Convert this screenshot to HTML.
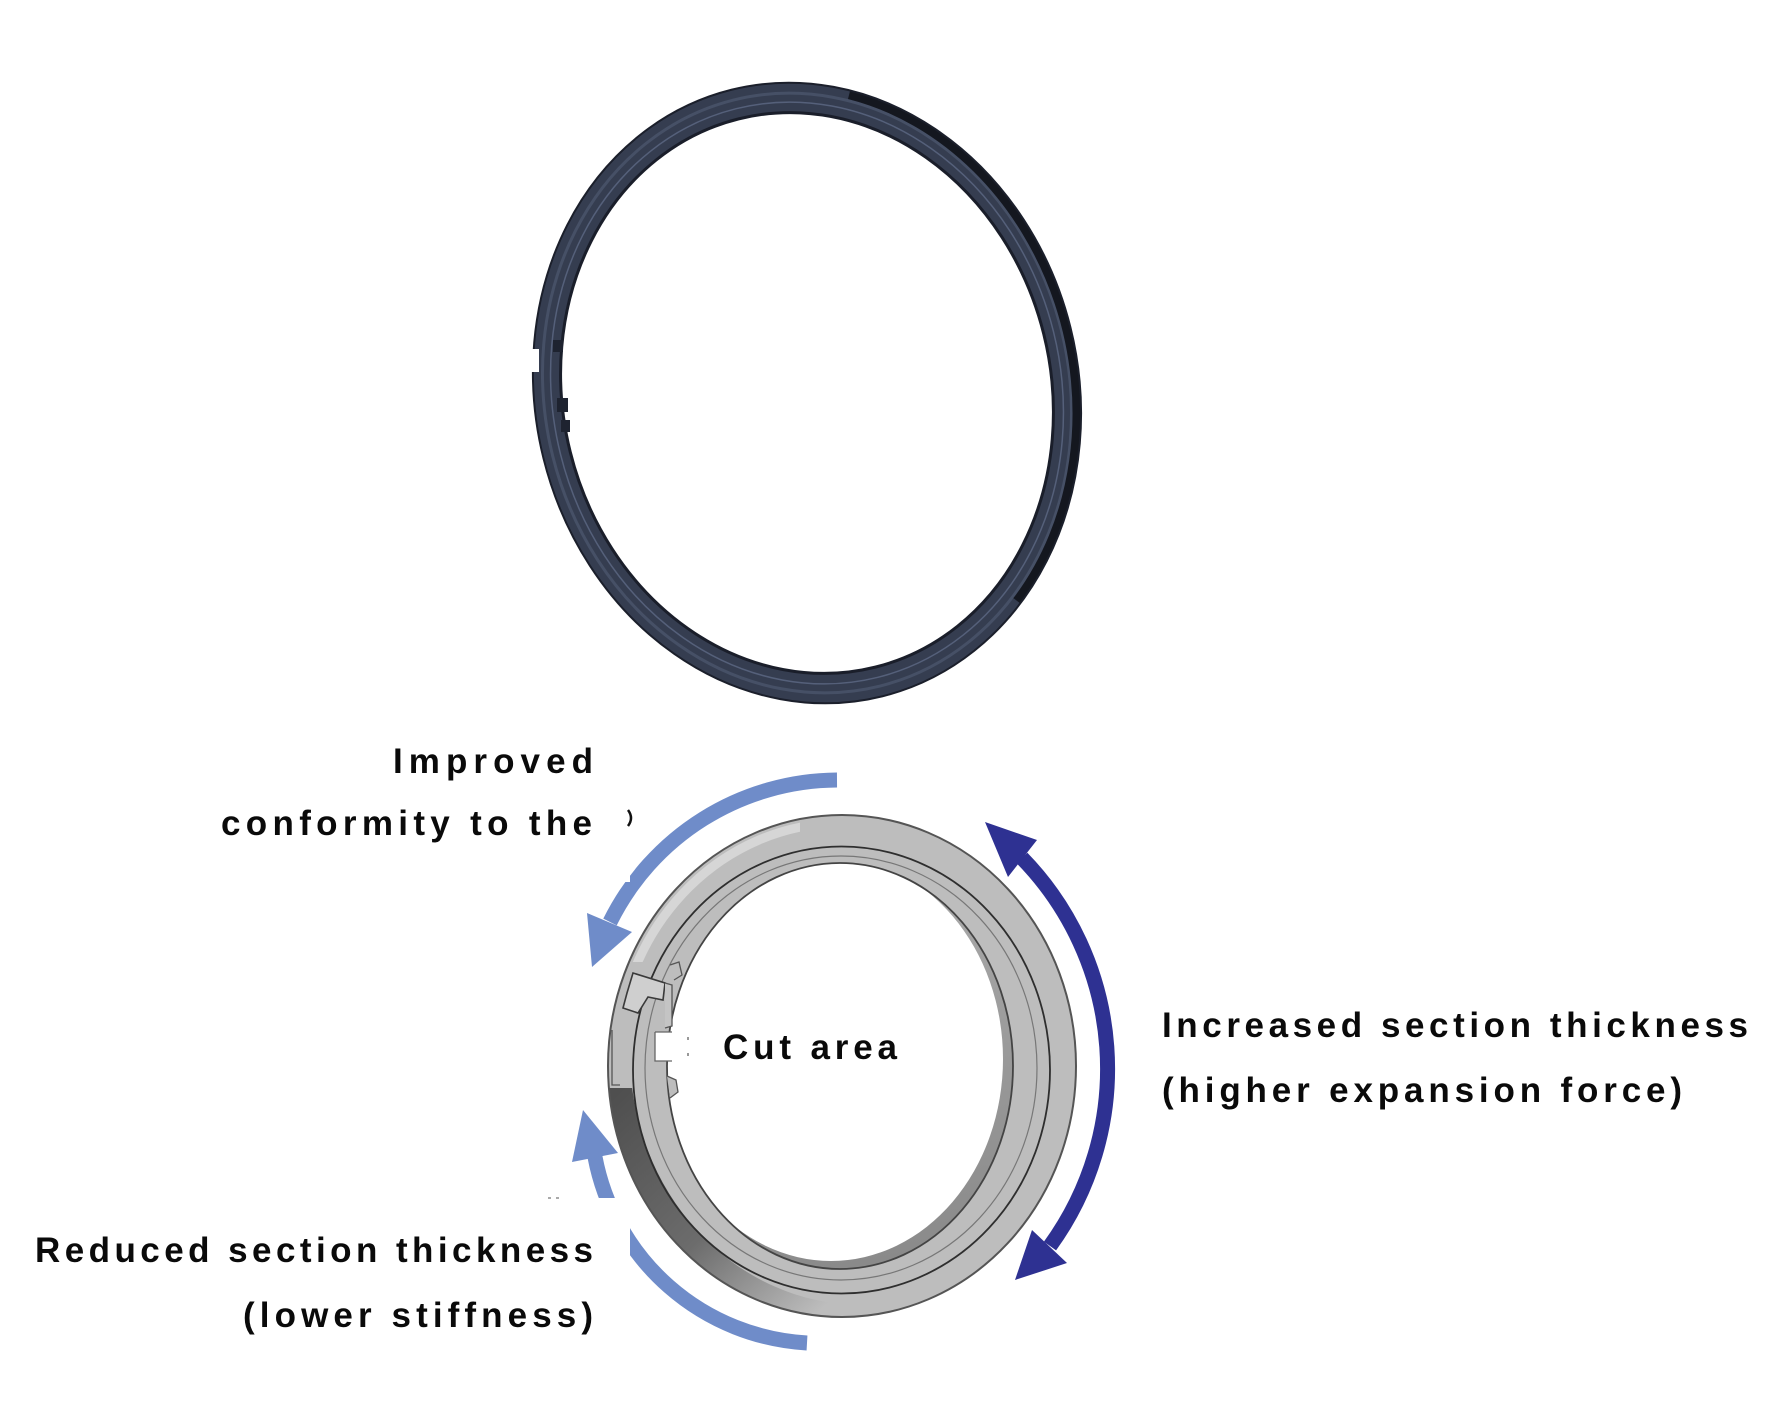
<!DOCTYPE html>
<html>
<head>
<meta charset="utf-8">
<style>
  html,body{margin:0;padding:0;background:#fff;}
  svg{display:block;}
  text{font-family:"Liberation Sans", Arial, sans-serif;font-weight:bold;font-size:35px;fill:#0a0a0a;}
</style>
</head>
<body>
<svg width="1788" height="1409" viewBox="0 0 1788 1409" xmlns="http://www.w3.org/2000/svg">
  <defs>
    <clipPath id="ll"><rect x="590" y="1088" width="240" height="245"/></clipPath>
    <clipPath id="ul"><rect x="600" y="812" width="200" height="150"/></clipPath>
    <clipPath id="hole"><ellipse cx="840" cy="1066" rx="173" ry="203"/></clipPath>
    <linearGradient id="dk" gradientUnits="userSpaceOnUse" x1="610" y1="1100" x2="810" y2="1320">
      <stop offset="0" stop-color="#4f4f4f"/>
      <stop offset="0.55" stop-color="#6c6c6c"/>
      <stop offset="1" stop-color="#bdbdbd"/>
    </linearGradient>
    <linearGradient id="bore" gradientUnits="userSpaceOnUse" x1="900" y1="900" x2="960" y2="1250">
      <stop offset="0" stop-color="#a8a8a8"/>
      <stop offset="1" stop-color="#8a8a8a"/>
    </linearGradient>
  </defs>

  <rect width="1788" height="1409" fill="#fff"/>

  <!-- ===== Top dark ring ===== -->
  <g transform="translate(807 393) rotate(-14)">
    <ellipse rx="271.5" ry="312.5" fill="#353d50"/>
    <ellipse rx="262" ry="302" fill="none" stroke="#465066" stroke-width="3"/>
    <ellipse rx="254" ry="293" fill="none" stroke="#55607a" stroke-width="1.5"/>
    <path d="M112.8 -278.9 A266.9 307.7 0 0 1 153.1 252.1" stroke="#14171f" stroke-width="8" fill="none"/>
    <ellipse rx="271.5" ry="312.5" fill="none" stroke="#1b1f2b" stroke-width="2"/>
    <ellipse rx="244" ry="282.5" fill="#fff" stroke="#1a1e2a" stroke-width="3"/>
  </g>
  <!-- notch on top ring -->
  <rect x="529" y="349" width="10" height="23" fill="#fff"/>
  <rect x="553" y="340" width="10" height="12" fill="#1e2330"/>
  <rect x="557" y="398" width="11" height="14" fill="#1e2330"/>
  <rect x="561" y="420" width="9" height="12" fill="#1e2330"/>

  <!-- ===== Bottom gray ring ===== -->
  <ellipse cx="842" cy="1066" rx="234" ry="251" fill="#bdbdbd"/>
  <g clip-path="url(#ll)">
    <ellipse cx="842" cy="1066" rx="234" ry="251" fill="url(#dk)"/>
    <ellipse cx="862" cy="1054" rx="232" ry="251" fill="#bdbdbd"/>
  </g>
  <g clip-path="url(#ul)">
    <ellipse cx="842" cy="1066" rx="226" ry="243" fill="none" stroke="#d6d6d6" stroke-width="9"/>
  </g>
  <ellipse cx="842" cy="1066" rx="234" ry="251" fill="none" stroke="#555" stroke-width="2"/>
  <ellipse cx="841.5" cy="1070" rx="208.5" ry="223.5" fill="none" stroke="#2e2e2e" stroke-width="1.8"/>
  <ellipse cx="841" cy="1068" rx="196" ry="212" fill="none" stroke="#777" stroke-width="1.2"/>
  <!-- hole -->
  <ellipse cx="840" cy="1066" rx="173" ry="203" fill="#fff"/>
  <g clip-path="url(#hole)">
    <ellipse cx="840" cy="1066" rx="173" ry="203" fill="url(#bore)"/>
    <ellipse cx="831" cy="1059" rx="172" ry="202" fill="#fff"/>
  </g>
  <ellipse cx="840" cy="1066" rx="173" ry="203" fill="none" stroke="#444" stroke-width="1.8"/>

  <!-- cut area details -->
  <rect x="655" y="1032" width="17" height="29" fill="#fff"/>
  <path d="M655 1032 L672 1032 M655 1032 L655 1061 L672 1061" stroke="#666" stroke-width="1.3" fill="none"/>
  <path d="M633 973 L665 983 L663 1000 L648 997 L638 1013 L623 1008 L627 993 Z" fill="#cfcfcf" stroke="#3a3a3a" stroke-width="1.6"/>
  <path d="M665 983 L672 985 L672 1026 L665 1028" fill="#c4c4c4" stroke="#555" stroke-width="1.3"/>
  <path d="M667 1076 L676 1080 L678 1092 L670 1098" fill="#bdbdbd" stroke="#555" stroke-width="1.3"/>
  <path d="M670 965 L679 962 L682 975 L674 980" fill="#bdbdbd" stroke="#555" stroke-width="1.3"/>
  <path d="M612 1030 L612 1085 L620 1085" stroke="#555" stroke-width="1.3" fill="none"/>
  <rect x="687" y="1037" width="2" height="3" fill="#999"/>
  <rect x="687" y="1053" width="2" height="3" fill="#999"/>

  <!-- ===== Light blue arrows ===== -->
  <path d="M837 780 A255 255 0 0 0 610 922" stroke="#6f8cc9" stroke-width="15" fill="none"/>
  <polygon points="592,967 587,913 632,932" fill="#6f8cc9"/>
  <rect x="380" y="740" width="250" height="142" fill="#fff"/>

  <path d="M595 1157 A229 229 0 0 0 807 1343" stroke="#6f8cc9" stroke-width="15" fill="none"/>
  <polygon points="583,1110 572,1162 618,1153" fill="#6f8cc9"/>
  <rect x="0" y="1198" width="630" height="211" fill="#fff"/>

  <!-- ===== Dark blue double arrow ===== -->
  <path d="M1022 858 A302 302 0 0 1 1050 1246" stroke="#2e3192" stroke-width="15" fill="none"/>
  <polygon points="985,822 1037,840 1008,877" fill="#2e3192"/>
  <polygon points="1015,1280 1032,1230 1067,1263" fill="#2e3192"/>

  <!-- small artifacts -->
  <path d="M628 810 Q634 818 628 826" stroke="#111" stroke-width="2.5" fill="none"/>
  <rect x="548" y="1197" width="3" height="2" fill="#aaa"/>
  <rect x="556" y="1197" width="3" height="2" fill="#aaa"/>

  <!-- ===== Text ===== -->
  <text x="393" y="773" textLength="200" lengthAdjust="spacing">Improved</text>
  <text x="221" y="835" textLength="371" lengthAdjust="spacing">conformity to the</text>
  <text x="723" y="1059" textLength="174" lengthAdjust="spacing">Cut area</text>
  <text x="1162" y="1037" textLength="586" lengthAdjust="spacing">Increased section thickness</text>
  <text x="1162" y="1102" textLength="520" lengthAdjust="spacing">(higher expansion force)</text>
  <text x="35" y="1262" textLength="558" lengthAdjust="spacing">Reduced section thickness</text>
  <text x="243" y="1327" textLength="350" lengthAdjust="spacing">(lower stiffness)</text>
</svg>
</body>
</html>
